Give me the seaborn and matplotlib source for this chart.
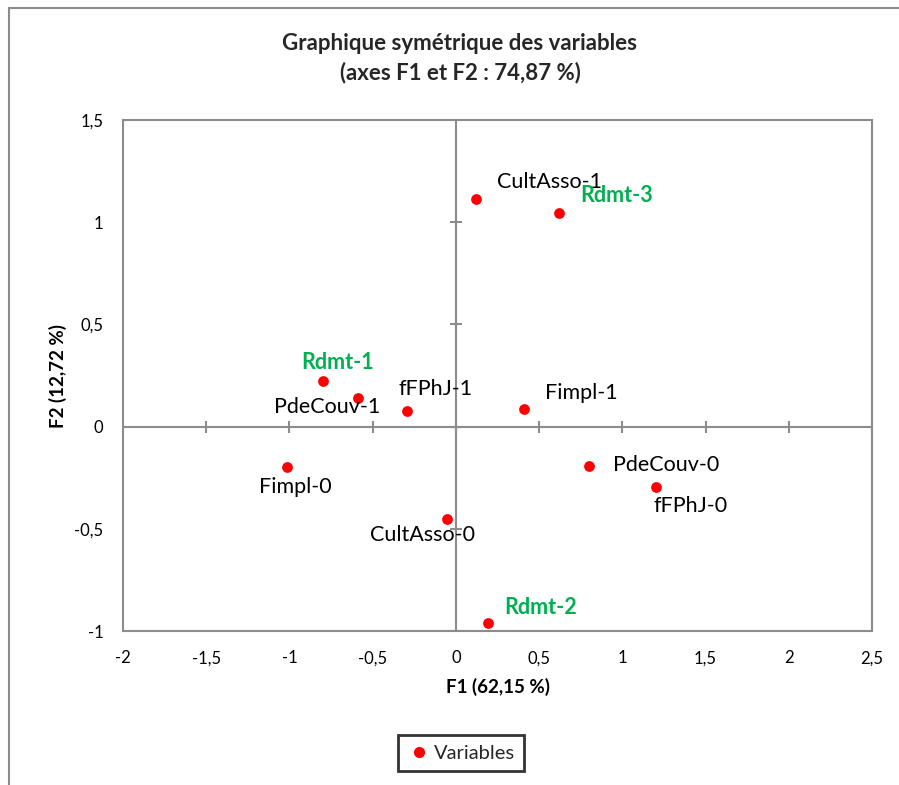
import matplotlib
matplotlib.use("Agg")
import matplotlib.pyplot as plt
import seaborn as sns
import pandas as pd
from matplotlib.patches import Rectangle
from matplotlib.lines import Line2D

sns.set_theme(style="white")
plt.rcParams['font.family'] = ['Lato', 'DejaVu Sans']

# ---- data ----
labels = ["CultAsso-1", "Rdmt-3", "Rdmt-1", "PdeCouv-1", "fFPhJ-1", "Fimpl-1",
          "Fimpl-0", "PdeCouv-0", "fFPhJ-0", "CultAsso-0", "Rdmt-2"]
f1 = [0.120, 0.617, -0.801, -0.591, -0.294, 0.409, -1.017, 0.801, 1.204, -0.056, 0.192]
f2 = [1.113, 1.046, 0.223, 0.140, 0.075, 0.085, -0.199, -0.191, -0.294, -0.452, -0.963]
x_ticks = [-2, -1.5, -1, -0.5, 0, 0.5, 1, 1.5, 2, 2.5]
y_ticks = [-1, -0.5, 0, 0.5, 1, 1.5]
title = "Graphique symétrique des variables\n(axes F1 et F2 : 74,87 %)"
xlabel = "F1 (62,15 %)"
ylabel = "F2 (12,72 %)"
legend_label = "Variables"

# label offsets in pixels (dx, dy, ha)
offsets = {
    "CultAsso-1": (21, 17, "left"),
    "Rdmt-3": (22, 17, "left"),
    "Rdmt-1": (15, 19, "center"),
    "PdeCouv-1": (-30, -9, "center"),
    "fFPhJ-1": (29, 22, "center"),
    "Fimpl-1": (21, 16, "left"),
    "Fimpl-0": (-28, -20, "left"),
    "PdeCouv-0": (24, 1, "left"),
    "fFPhJ-0": (-3, -19, "left"),
    "CultAsso-0": (-77, -16, "left"),
    "Rdmt-2": (16, 16, "left"),
}

df = pd.DataFrame({"F1": f1, "F2": f2, "label": labels})

W, H = 899, 785
fig = plt.figure(figsize=(W / 100, H / 100), dpi=100)
fig.patch.set_facecolor("white")

# outer chart border
fig.add_artist(Rectangle((8.5 / W, -0.1), 1.2, 1 - 8 / H + 0.1, transform=fig.transFigure,
                         fill=False, edgecolor="#8c8c8c", linewidth=1.5))

ax = fig.add_axes([123 / W, 1 - 631 / H, 749 / W, 511 / H])
ax.set_xlim(-2, 2.5)
ax.set_ylim(-1, 1.5)

gray = "#8c8c8c"
ax.axhline(0, color=gray, lw=1.5, zorder=1)
ax.axvline(0, color=gray, lw=1.5, zorder=1)
ax.plot(x_ticks, [0] * len(x_ticks), linestyle="none", marker="|", markersize=8,
        markeredgewidth=1.5, color=gray, zorder=1)
ax.plot([0] * len(y_ticks), y_ticks, linestyle="none", marker="_", markersize=8,
        markeredgewidth=1.5, color=gray, zorder=1)

sns.scatterplot(data=df, x="F1", y="F2", color="#ff0000", s=60, linewidth=0,
                ax=ax, zorder=3, legend=False)

for lab, x, y in zip(labels, f1, f2):
    dx, dy, ha = offsets[lab]
    is_r = lab.startswith("Rdmt")
    ax.annotate(lab, (x, y), xytext=(dx, dy), textcoords="offset pixels",
                ha=ha, va="center", fontsize=15.5,
                color="#00b050" if is_r else "black",
                fontweight="bold" if is_r else "normal", zorder=4)

for s in ax.spines.values():
    s.set_color(gray)
    s.set_linewidth(1.5)

ax.set_xticks(x_ticks)
ax.set_yticks(y_ticks)
ax.set_xticklabels([f"{v:g}".replace(".", ",") for v in x_ticks], fontsize=12, color="black")
ax.set_yticklabels([f"{v:g}".replace(".", ",") for v in y_ticks], fontsize=12, color="black")
ax.tick_params(axis="x", length=0, pad=14)
ax.tick_params(axis="y", length=0, pad=14)
ax.set_xlabel(xlabel, fontsize=13.5, fontweight="bold", labelpad=8, color="black")
ax.set_ylabel(ylabel, fontsize=13.5, fontweight="bold", labelpad=5, color="black")

fig.text(460 / W, 1 - 58 / H, title, ha="center", va="center", fontsize=16,
         fontweight="bold", linespacing=1.4)

handle = Line2D([], [], linestyle="none", marker="o", color="#ff0000", markersize=7)
leg = fig.legend([handle], [legend_label], loc="center", bbox_to_anchor=(461 / W, 1 - 753 / H),
                 frameon=True, fancybox=False, fontsize=14.5, handletextpad=0.1,
                 borderpad=0.45, handlelength=1.2)
leg.get_frame().set_edgecolor("black")
leg.get_frame().set_linewidth(2)

fig.savefig("out.png", dpi=100)
